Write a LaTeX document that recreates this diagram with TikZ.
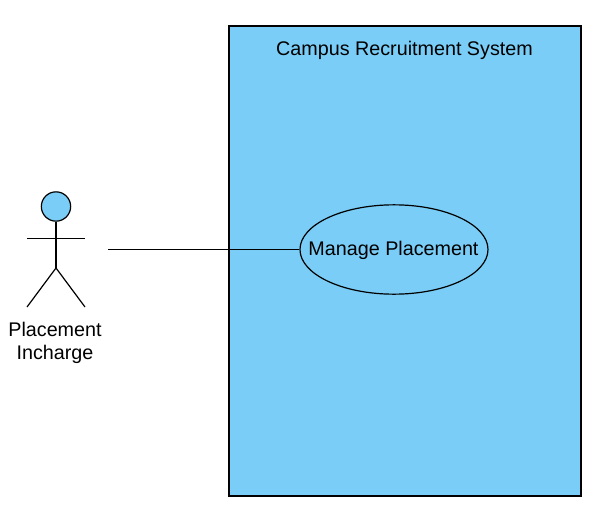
\documentclass[tikz,border=0pt]{standalone}
\usepackage{fontspec}
\setmainfont{Liberation Sans}
\usetikzlibrary{positioning,shapes.geometric}
\definecolor{sysblue}{HTML}{79CDF6}
\tikzset{
  sysbox/.style={draw=black,fill=sysblue,line width=0.9pt,inner sep=0pt},
  usecase/.style={ellipse,draw=black,fill=sysblue,line width=0.9pt,inner sep=0pt,
                  minimum width=141pt,minimum height=67pt},
  lbl/.style={font=\fontsize{14.8}{17.25}\selectfont,inner sep=0pt,align=center},
  head/.style={circle,draw=black,fill=sysblue,line width=0.9pt,inner sep=0pt,minimum size=22pt},
  conn/.style={draw=black,line width=0.9pt},
}
\begin{document}
\begin{tikzpicture}[x=0.75pt,y=-0.75pt]
\useasboundingbox (0,0) rectangle (601,518);
  \node[sysbox,minimum width=264pt,minimum height=352.5pt] (sys) at (405,261) {};
  \node[lbl] (title) at (404.5,50.5) {Campus Recruitment System};
  \node[usecase] (manage) at (394,249.5) {};
  \node[lbl] (managelbl) at (393.5,250.5) {Manage Placement};
  \node[head] (hd) at (56,206.5) {};
  \coordinate (neck) at (56,268);
  \coordinate (armL) at (27,238.4);
  \coordinate (armR) at (85,238.4);
  \coordinate (footL) at (27,307);
  \coordinate (footR) at (85,307);
  \coordinate (free) at (108,249.2);
  \draw[conn] (hd) -- (neck);
  \draw[conn] (armL) -- (armR);
  \draw[conn] (footL) -- (neck) -- (footR);
  \node[lbl] (actor) at (55,342.5) {Placement\\Incharge};
  \draw[conn] (free) -- (free -| manage.west);
\end{tikzpicture}
\end{document}
